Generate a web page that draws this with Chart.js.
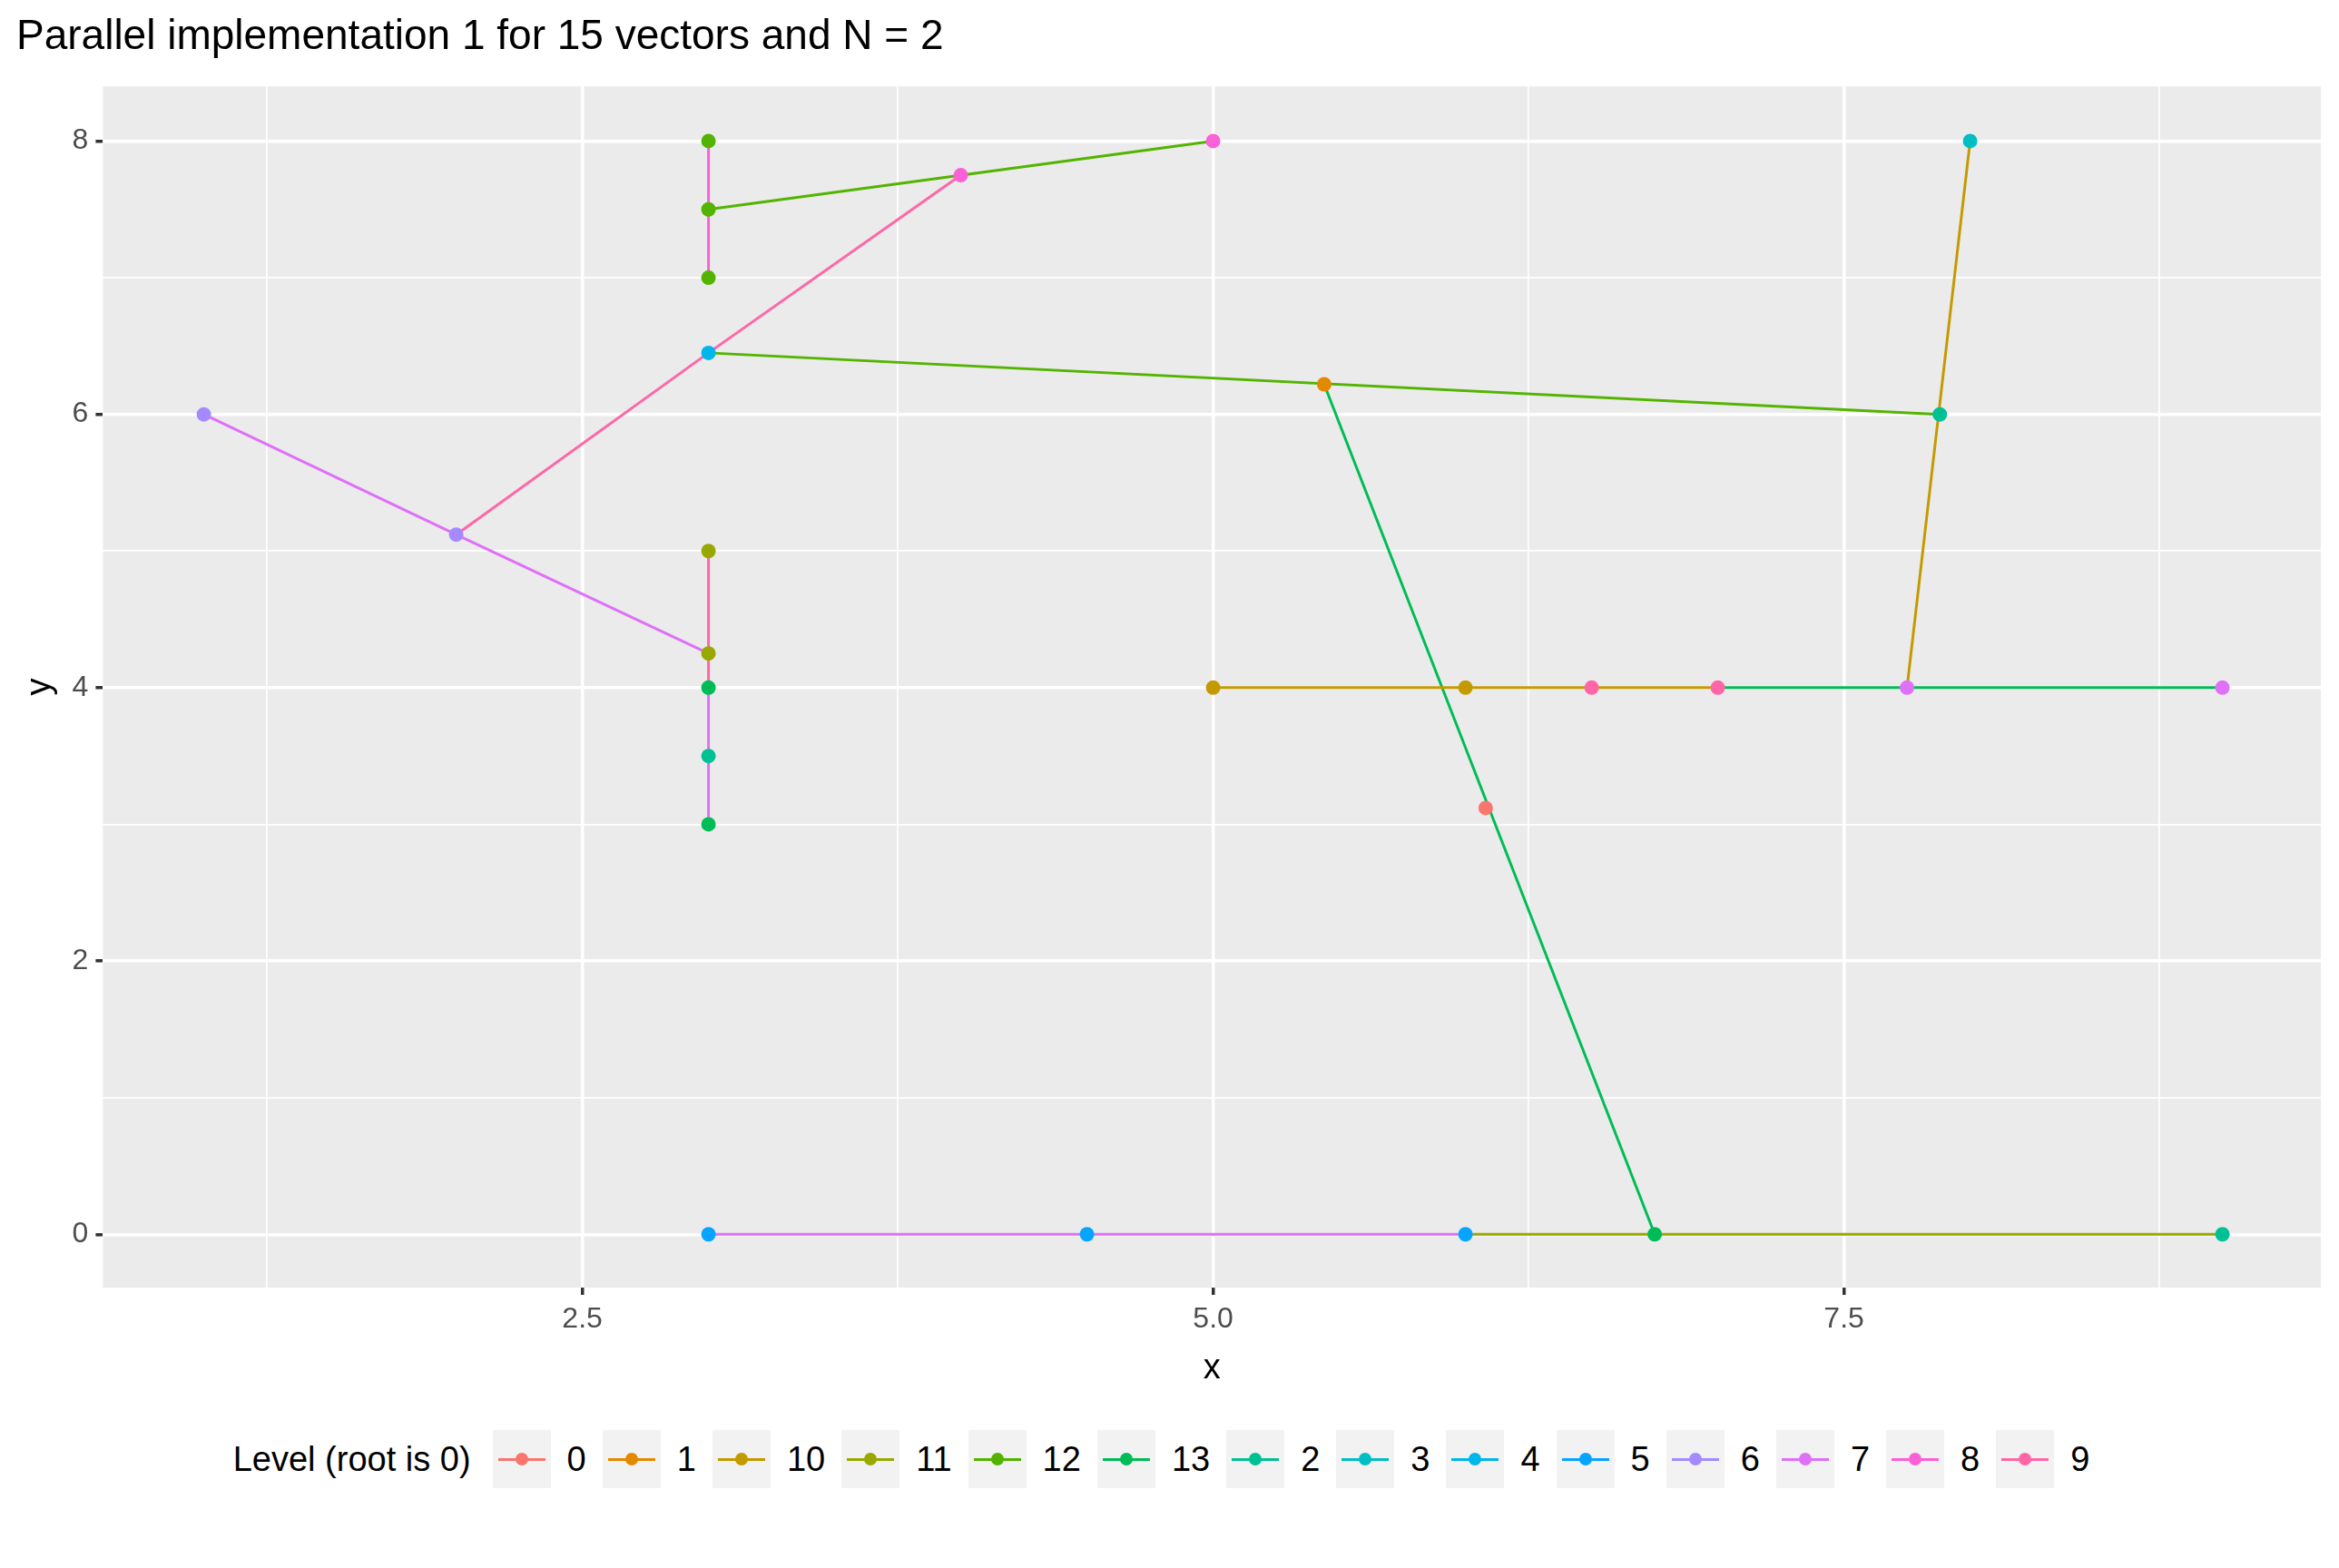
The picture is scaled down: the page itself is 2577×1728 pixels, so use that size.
<!DOCTYPE html>
<html>
<head>
<meta charset="utf-8">
<script src="https://cdn.jsdelivr.net/npm/chart.js@4"></script>
<style>
  body { margin: 0; background: #fff; font-family: Arial, "Liberation Sans", sans-serif; }
  #wrap { width: 2577px; height: 1535px; position: relative; }
  #legend { display: flex; align-items: center; justify-content: center; height: 90px; font-size: 38px; color: #000; margin-top: 28px; }
  #legend .title { margin-right: 24px; }
  #legend .item { display: flex; align-items: center; margin-right: 18px; }
  #legend .key { width: 64px; height: 64px; background: #f2f2f2; position: relative; margin-right: 18px; }
  #legend .key .ln { position: absolute; left: 6px; right: 6px; top: 31px; height: 3px; }
  #legend .key .dt { position: absolute; left: 25px; top: 25px; width: 14px; height: 14px; border-radius: 50%; }
</style>
</head>
<body>
<div id="wrap"><canvas id="chart"></canvas></div>
<div id="legend"></div>
<script>
const levels = ["0", "1", "10", "11", "12", "13", "2", "3", "4", "5", "6", "7", "8", "9"]
const levelColors = ["#F8766D", "#E38900", "#C49A00", "#99A800", "#53B400", "#00BC56", "#00C094",
  "#00BFC4", "#00B6EB", "#06A4FF", "#A58AFF", "#DF70F8", "#FB61D7", "#FF66A8"]

// points, by level
const levelPoints = {
  "0": [[6.08, 3.12]],
  "1": [[5.44, 6.22]],
  "10": [[5, 4], [6, 4]],
  "11": [[3, 5], [3, 4.25]],
  "12": [[3, 8], [3, 7.5], [3, 7]],
  "13": [[3, 4], [3, 3], [6.75, 0]],
  "2": [[3, 3.5], [9, 0], [7.88, 6]],
  "3": [[8, 8]],
  "4": [[3, 6.45]],
  "5": [[3, 0], [4.5, 0], [6, 0]],
  "6": [[1, 6], [2, 5.12]],
  "7": [[7.75, 4], [9, 4]],
  "8": [[4, 7.75], [5, 8]],
  "9": [[6.5, 4], [7, 4]]
}

// paths, by level (null breaks a path)
const levelPaths = {
  "7": [[1, 6], [2, 5.12], [3, 4.25], null, [3, 4], [3, 3], null, [3, 0], [6, 0]],
  "9": [[2, 5.12], [3, 6.45], [4, 7.75], null, [3, 5], [3, 4]],
  "8": [[3, 8], [3, 7]],
  "12": [[3, 7.5], [5, 8], null, [3, 6.45], [7.88, 6]],
  "13": [[5.44, 6.22], [6.75, 0], null, [7, 4], [9, 4]],
  "10": [[5, 4], [7, 4], null, [7.75, 4], [8, 8]],
  "11": [[6, 0], [9, 0]]
}

const toXY = arr => arr.map(p => p ? { x: p[0], y: p[1] } : { x: null, y: null })

const datasets = []
levels.forEach((lv, i) => {
  if (levelPaths[lv]) {
    datasets.push({
      type: "line", data: toXY(levelPaths[lv]), borderColor: levelColors[i],
      borderWidth: 3, pointRadius: 0, spanGaps: false, order: 2
    })
  }
})
levels.forEach((lv, i) => {
  datasets.push({
    type: "scatter", data: toXY(levelPoints[lv]), backgroundColor: levelColors[i],
    borderWidth: 0, pointRadius: 8, order: 1
  })
})

new Chart(document.getElementById("chart"), {
  data: { datasets },
  options: {
    responsive: true,
    maintainAspectRatio: false,
    animation: false,
    layout: { padding: { left: 18, right: 20, top: 0, bottom: 0 } },
    plugins: {
      legend: { display: false },
      tooltip: { enabled: false },
      title: {
        display: true, text: "Parallel implementation 1 for 15 vectors and N = 2",
        align: "start", color: "#000", font: { size: 46, weight: "normal", family: "Arial, 'Liberation Sans'" },
        padding: { top: 14, bottom: 26, left: 100 }
      }
    },
    scales: {
      x: {
        type: "linear", min: 0.6, max: 9.39,
        afterBuildTicks: axis => { axis.ticks = [1.25, 2.5, 3.75, 5, 6.25, 7.5, 8.75].map(v => ({ value: v })) },
        ticks: {
          color: "#4d4d4d", font: { size: 32 }, padding: 8,
          callback: v => [2.5, 5, 7.5].includes(v) ? v.toFixed(1) : ""
        },
        grid: {
          color: "#ffffff", drawTicks: true, tickLength: 8,
          lineWidth: ctx => [2.5, 5, 7.5].includes(ctx.tick && ctx.tick.value) ? 3.5 : 1.7,
          tickColor: ctx => [2.5, 5, 7.5].includes(ctx.tick && ctx.tick.value) ? "#333" : "rgba(0,0,0,0)"
        },
        border: { display: false },
        title: { display: true, text: "x", color: "#000", font: { size: 38 }, padding: { top: 4 } }
      },
      y: {
        type: "linear", min: -0.39, max: 8.4,
        afterBuildTicks: axis => { axis.ticks = [0, 1, 2, 3, 4, 5, 6, 7, 8].map(v => ({ value: v })) },
        ticks: {
          color: "#4d4d4d", font: { size: 32 }, padding: 8,
          callback: v => v % 2 === 0 ? String(v) : ""
        },
        grid: {
          color: "#ffffff", tickLength: 8,
          lineWidth: ctx => ctx.tick && ctx.tick.value % 2 === 0 ? 3.5 : 1.7,
          tickColor: ctx => ctx.tick && ctx.tick.value % 2 === 0 ? "#333" : "rgba(0,0,0,0)"
        },
        border: { display: false },
        title: { display: true, text: "y", color: "#000", font: { size: 38 } }
      }
    }
  },
  plugins: [{
    id: "panelBg",
    beforeDraw(chart) {
      const { ctx, chartArea: a } = chart
      ctx.save()
      ctx.fillStyle = "#ebebeb"
      ctx.fillRect(a.left, a.top, a.right - a.left, a.bottom - a.top)
      ctx.restore()
    }
  }]
})

const legend = document.getElementById("legend")
legend.innerHTML = '<span class="title">Level (root is 0)</span>' + levels.map((lv, i) =>
  `<span class="item"><span class="key"><span class="ln" style="background:${levelColors[i]}"></span>` +
  `<span class="dt" style="background:${levelColors[i]}"></span></span>${lv}</span>`).join("")
</script>
</body>
</html>
